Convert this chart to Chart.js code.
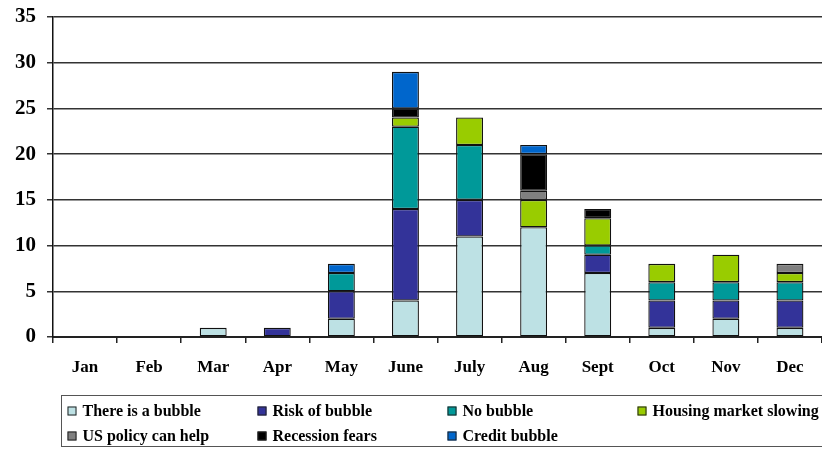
<!DOCTYPE html>
<html>
<head>
<meta charset="utf-8">
<script src="https://cdn.jsdelivr.net/npm/chart.js@4"></script>
<style>
  html, body { margin: 0; padding: 0; background: #fff; }
  #chart { display: block; }
</style>
</head>
<body>
<canvas id="chart" width="822" height="449"></canvas>
<script>
const months = ["Jan", "Feb", "Mar", "Apr", "May", "June", "July", "Aug", "Sept", "Oct", "Nov", "Dec"];

const thereIsABubble   = [0, 0, 1, 0, 2, 4, 11, 12, 7, 1, 2, 1];
const riskOfBubble     = [0, 0, 0, 1, 3, 10, 4, 0, 2, 3, 2, 3];
const noBubble         = [0, 0, 0, 0, 2, 9, 6, 0, 1, 2, 2, 2];
const housingSlowing   = [0, 0, 0, 0, 0, 1, 3, 3, 3, 2, 3, 1];
const usPolicyCanHelp  = [0, 0, 0, 0, 0, 0, 0, 1, 0, 0, 0, 1];
const recessionFears   = [0, 0, 0, 0, 0, 1, 0, 4, 1, 0, 0, 0];
const creditBubble     = [0, 0, 0, 0, 1, 4, 0, 1, 0, 0, 0, 0];

const yTicks = [0, 5, 10, 15, 20, 25, 30, 35];

const series = [
  { label: "There is a bubble",       data: thereIsABubble,  color: "#BDE1E4" },
  { label: "Risk of bubble",          data: riskOfBubble,    color: "#333399" },
  { label: "No bubble",               data: noBubble,        color: "#009999" },
  { label: "Housing market slowing",  data: housingSlowing,  color: "#99CC00" },
  { label: "US policy can help",      data: usPolicyCanHelp, color: "#808080" },
  { label: "Recession fears",         data: recessionFears,  color: "#000000" },
  { label: "Credit bubble",           data: creditBubble,    color: "#0066CC" }
];

const serif = "'Liberation Serif', 'Times New Roman', serif";

// Boxed legend below the plot: two rows of four columns
const boxLegend = {
  id: "boxLegend",
  afterDraw(chart) {
    const ctx = chart.ctx;
    const left = 61.5, top = 395.5, width = 770, height = 51;
    ctx.save();
    ctx.strokeStyle = "#555";
    ctx.lineWidth = 1;
    ctx.strokeRect(left, top, width, height);
    ctx.font = "bold 16px " + serif;
    ctx.textBaseline = "middle";
    chart.data.datasets.forEach((ds, i) => {
      const col = i % 4, row = Math.floor(i / 4);
      const x = left + 6 + col * 190;
      const y = top + 15.5 + row * 25;
      ctx.fillStyle = ds.backgroundColor;
      ctx.fillRect(x, y - 4.5, 9, 9);
      ctx.strokeStyle = "#222";
      ctx.strokeRect(x + 0.5, y - 4, 8, 8);
      ctx.fillStyle = "#000";
      ctx.fillText(ds.label, x + 15, y + 1);
    });
    ctx.restore();
  }
};

new Chart(document.getElementById("chart"), {
  type: "bar",
  data: {
    labels: months,
    datasets: series.map(s => ({
      label: s.label,
      data: s.data.map(v => v === 0 ? null : v),
      backgroundColor: s.color,
      borderColor: "#111",
      borderWidth: 1.3,
      borderSkipped: false,
      barPercentage: 0.84,
      categoryPercentage: 0.5
    }))
  },
  plugins: [boxLegend],
  options: {
    responsive: false,
    animation: false,
    layout: { padding: { top: 17, right: 0, left: 0, bottom: 59 } },
    plugins: { legend: { display: false }, tooltip: { enabled: false } },
    scales: {
      x: {
        stacked: true,
        afterFit: s => { s.height = 53; },
        grid: { offset: true, drawOnChartArea: false, drawTicks: true, tickLength: 6, color: "#222", lineWidth: 1.5 },
        border: { color: "#222", width: 2 },
        ticks: { color: "#000", font: { family: serif, size: 17, weight: "bold" }, padding: 14 }
      },
      y: {
        stacked: true,
        min: 0, max: 35,
        afterFit: s => { s.width = 53; s.paddingTop = 0; s.paddingBottom = 0; },
        afterBuildTicks: s => { s.ticks = yTicks.map(v => ({ value: v })); },
        grid: { color: "#333", lineWidth: 1.5, drawTicks: true, tickLength: 6 },
        border: { color: "#111", width: 1.5 },
        ticks: { color: "#000", font: { family: serif, size: 21, weight: "bold" }, padding: 11 }
      }
    }
  }
});
</script>
</body>
</html>
